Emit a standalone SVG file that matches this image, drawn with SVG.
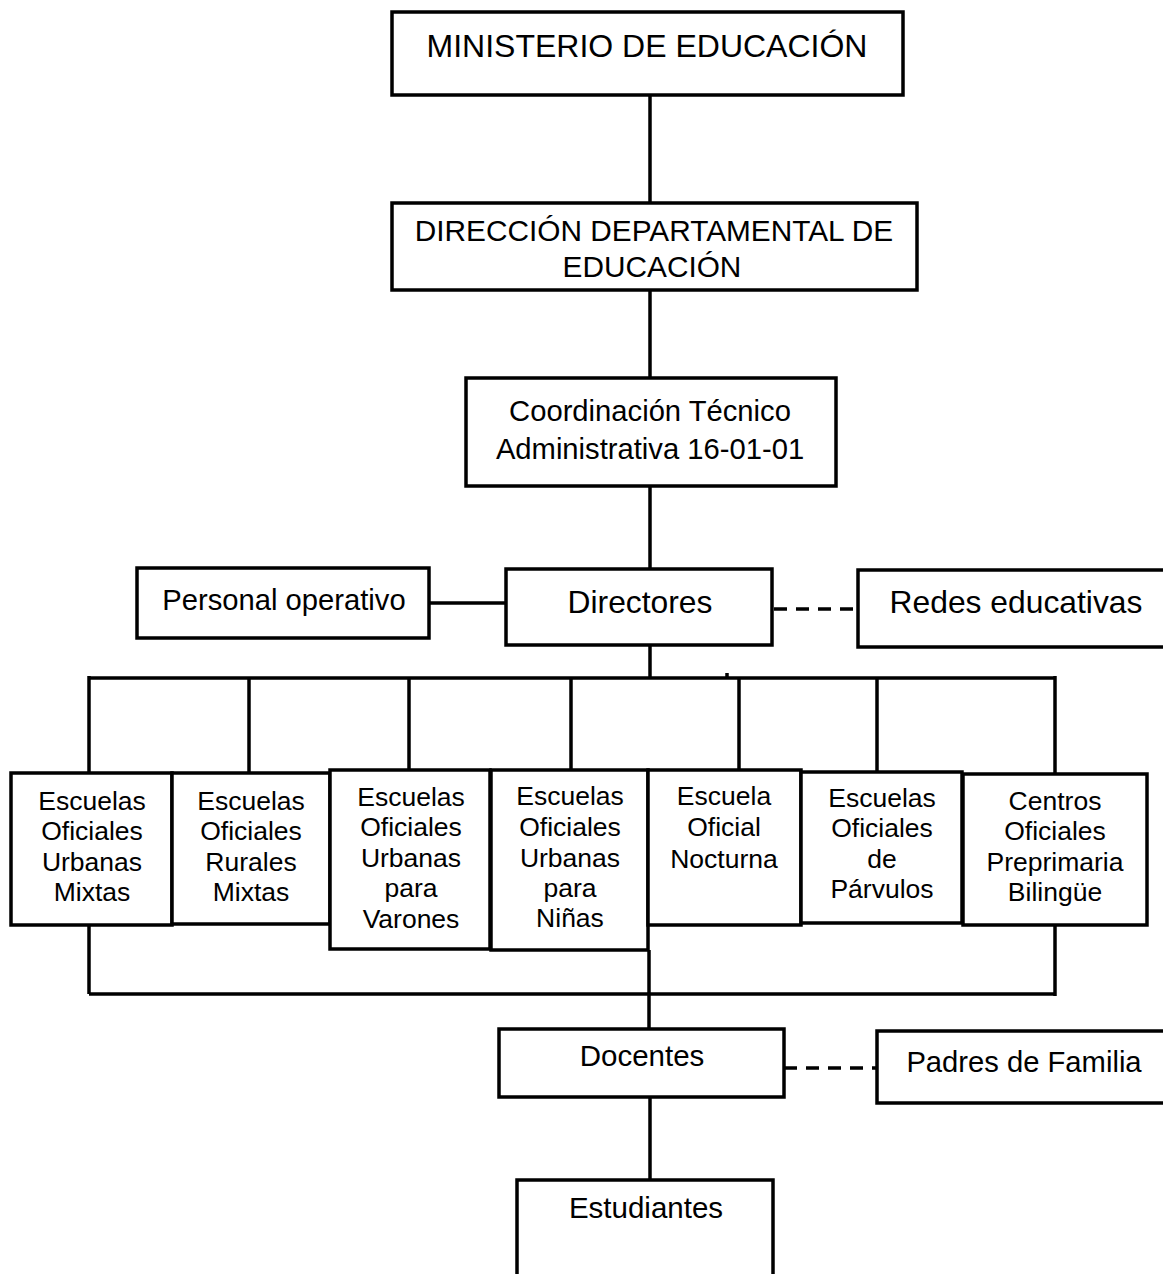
<svg xmlns="http://www.w3.org/2000/svg" width="1163" height="1274" viewBox="0 0 1163 1274">
<style>
.box{fill:#fff;stroke:#000;stroke-width:3.5}
.ln{stroke:#000;stroke-width:3.5;fill:none}
.dash{stroke:#000;stroke-width:3.5;fill:none;stroke-dasharray:13 9}
text{font-family:"Liberation Sans",Arial,sans-serif;fill:#000;text-anchor:middle}
.s{font-size:26.5px}
</style>
<rect width="1163" height="1274" fill="#fff"/>
<g id="connectors">
<line class="ln" x1="650" y1="95" x2="650" y2="203"/>
<line class="ln" x1="650" y1="290" x2="650" y2="378"/>
<line class="ln" x1="650" y1="486" x2="650" y2="569"/>
<line class="ln" x1="429" y1="603" x2="506" y2="603"/>
<line class="dash" x1="774" y1="609" x2="858" y2="609"/>
<line class="ln" x1="650" y1="645" x2="650" y2="678"/>
<line class="ln" x1="89" y1="678" x2="1055" y2="678"/>
<line class="ln" x1="727" y1="673" x2="727" y2="678"/>
<line class="ln" x1="89" y1="676" x2="89" y2="773"/>
<line class="ln" x1="249" y1="678" x2="249" y2="773"/>
<line class="ln" x1="409" y1="678" x2="409" y2="770"/>
<line class="ln" x1="571" y1="678" x2="571" y2="770"/>
<line class="ln" x1="739" y1="678" x2="739" y2="770"/>
<line class="ln" x1="877" y1="678" x2="877" y2="773"/>
<line class="ln" x1="1055" y1="676" x2="1055" y2="774"/>
<line class="ln" x1="89" y1="925" x2="89" y2="994"/>
<line class="ln" x1="1055" y1="925" x2="1055" y2="996"/>
<line class="ln" x1="89" y1="994" x2="1055" y2="994"/>
<line class="ln" x1="649" y1="950" x2="649" y2="1029"/>
<line class="dash" x1="784" y1="1068" x2="877" y2="1068"/>
<line class="ln" x1="650" y1="1097" x2="650" y2="1180"/>
</g>
<g id="n-ministerio">
<rect class="box" x="392" y="12" width="511" height="83"/>
<text x="647" y="57" font-size="32">MINISTERIO DE EDUCACIÓN</text>
</g>
<g id="n-direccion">
<rect class="box" x="392" y="203" width="525" height="87"/>
<text x="654" y="241" font-size="29.8">DIRECCIÓN DEPARTAMENTAL DE</text>
<text x="652" y="277" font-size="29.8">EDUCACIÓN</text>
</g>
<g id="n-coordinacion">
<rect class="box" x="466" y="378" width="370" height="108"/>
<text x="650" y="421" font-size="29.2">Coordinación Técnico</text>
<text x="650" y="459" font-size="29.2">Administrativa 16-01-01</text>
</g>
<g id="n-personal">
<rect class="box" x="137" y="568" width="292" height="70"/>
<text x="284" y="610" font-size="29.2">Personal operativo</text>
</g>
<g id="n-directores">
<rect class="box" x="506" y="569" width="266" height="76"/>
<text x="640" y="613" font-size="31.8">Directores</text>
</g>
<g id="n-redes">
<rect class="box" x="858" y="570" width="312" height="77"/>
<text x="1016" y="613" font-size="31.8">Redes educativas</text>
</g>
<g id="n-urbanas-mixtas">
<rect class="box" x="11" y="773" width="161" height="152"/>
<text class="s" x="92"><tspan x="92" y="810">Escuelas</tspan><tspan x="92" y="840">Oficiales</tspan><tspan x="92" y="871">Urbanas</tspan><tspan x="92" y="901">Mixtas</tspan></text>
</g>
<g id="n-rurales-mixtas">
<rect class="box" x="172" y="773" width="158" height="151"/>
<text class="s" x="251"><tspan x="251" y="810">Escuelas</tspan><tspan x="251" y="840">Oficiales</tspan><tspan x="251" y="871">Rurales</tspan><tspan x="251" y="901">Mixtas</tspan></text>
</g>
<g id="n-varones">
<rect class="box" x="330" y="770" width="160" height="179"/>
<text class="s" x="411"><tspan x="411" y="806">Escuelas</tspan><tspan x="411" y="836">Oficiales</tspan><tspan x="411" y="867">Urbanas</tspan><tspan x="411" y="897">para</tspan><tspan x="411" y="928">Varones</tspan></text>
</g>
<g id="n-ninas">
<rect class="box" x="491" y="770" width="157" height="180"/>
<text class="s" x="570"><tspan x="570" y="805">Escuelas</tspan><tspan x="570" y="836">Oficiales</tspan><tspan x="570" y="867">Urbanas</tspan><tspan x="570" y="897">para</tspan><tspan x="570" y="927">Niñas</tspan></text>
</g>
<g id="n-nocturna">
<rect class="box" x="648" y="770" width="153" height="155"/>
<text class="s" x="724"><tspan x="724" y="805">Escuela</tspan><tspan x="724" y="836">Oficial</tspan><tspan x="724" y="868">Nocturna</tspan></text>
</g>
<g id="n-parvulos">
<rect class="box" x="801" y="772" width="161" height="151"/>
<text class="s" x="882"><tspan x="882" y="807">Escuelas</tspan><tspan x="882" y="837">Oficiales</tspan><tspan x="882" y="868">de</tspan><tspan x="882" y="898">Párvulos</tspan></text>
</g>
<g id="n-centros">
<rect class="box" x="963" y="774" width="184" height="151"/>
<text class="s" x="1055"><tspan x="1055" y="810">Centros</tspan><tspan x="1055" y="840">Oficiales</tspan><tspan x="1055" y="871">Preprimaria</tspan><tspan x="1055" y="901">Bilingüe</tspan></text>
</g>
<g id="n-docentes">
<rect class="box" x="499" y="1029" width="285" height="68"/>
<text x="642" y="1066" font-size="29.5">Docentes</text>
</g>
<g id="n-padres">
<rect class="box" x="877" y="1031" width="292" height="72"/>
<text x="1024" y="1072" font-size="29.2">Padres de Familia</text>
</g>
<g id="n-estudiantes">
<rect class="box" x="517" y="1180" width="256" height="110"/>
<text x="646" y="1218" font-size="29.5">Estudiantes</text>
</g>
</svg>
